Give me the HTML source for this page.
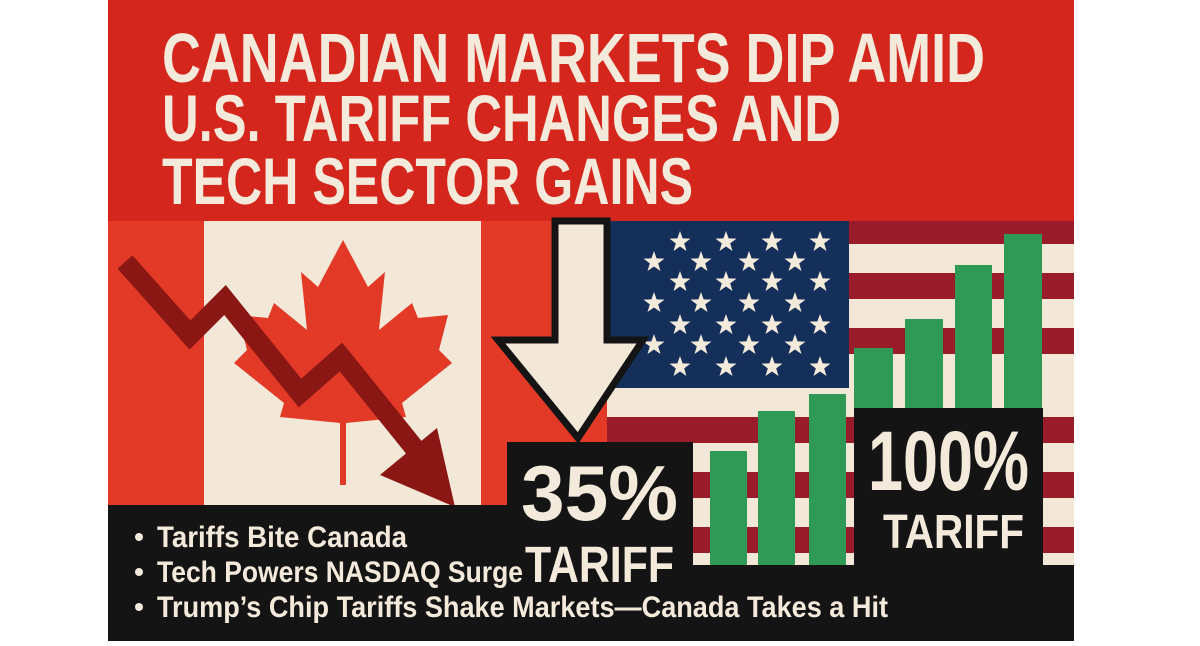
<!DOCTYPE html>
<html><head><meta charset="utf-8"><style>
html,body{margin:0;padding:0;background:#fff;width:1200px;height:646px;overflow:hidden}
svg{display:block}
text{font-family:"Liberation Sans",sans-serif;font-weight:bold;fill:#f4eadb}
</style></head><body>
<svg width="1200" height="646" viewBox="0 0 1200 646" xmlns="http://www.w3.org/2000/svg">
<defs>
<polygon id="st" points="0,-11 2.6,-3.6 10.5,-3.4 4.2,1.4 6.5,9 0,4.5 -6.5,9 -4.2,1.4 -10.5,-3.4 -2.6,-3.6" fill="#f4eadb"/>
</defs>
<rect x="0" y="0" width="1200" height="646" fill="#fff"/>
<rect x="108" y="0" width="966" height="221" fill="#d4261c"/>
<text x="162" y="82" font-size="70" textLength="823" lengthAdjust="spacingAndGlyphs">CANADIAN MARKETS DIP AMID</text>
<text x="162" y="141" font-size="66" textLength="679" lengthAdjust="spacingAndGlyphs">U.S. TARIFF CHANGES AND</text>
<text x="162" y="204" font-size="66" textLength="531" lengthAdjust="spacingAndGlyphs">TECH SECTOR GAINS</text>
<rect x="108" y="221" width="96" height="290" fill="#e23a26"/>
<rect x="204" y="221" width="277" height="290" fill="#f3e8d8"/>
<rect x="481" y="221" width="130" height="290" fill="#e23a26"/>
<polygon fill="#e23a26" points="343,240 368,287 385,272 379,330 412,303 418,318 448,315 439,350 452,363 402,403 406,417 346,423 340,423 280,417 284,403 234,363 247,350 238,315 268,318 274,303 307,330 301,272 318,287"/>
<rect x="340" y="420" width="6" height="65" fill="#e23a26"/>
<rect x="607" y="221" width="467" height="345" fill="#f3e8d8"/>
<g fill="#9a1c2b">
<rect x="607" y="221" width="467" height="23"/>
<rect x="607" y="273" width="467" height="26"/>
<rect x="607" y="328" width="467" height="26"/>
<rect x="607" y="417" width="467" height="26"/>
<rect x="607" y="472" width="467" height="26"/>
<rect x="607" y="527" width="467" height="26"/>
</g>
<rect x="607" y="221" width="242" height="167" fill="#14305a"/>
<g>
<use href="#st" x="680" y="242"/><use href="#st" x="726" y="242"/><use href="#st" x="772" y="242"/><use href="#st" x="820" y="242"/>
<use href="#st" x="654" y="262"/><use href="#st" x="701" y="262"/><use href="#st" x="749" y="262"/><use href="#st" x="795" y="262"/>
<use href="#st" x="680" y="282"/><use href="#st" x="726" y="282"/><use href="#st" x="772" y="282"/><use href="#st" x="820" y="282"/>
<use href="#st" x="654" y="303"/><use href="#st" x="701" y="303"/><use href="#st" x="749" y="303"/><use href="#st" x="795" y="303"/>
<use href="#st" x="680" y="325"/><use href="#st" x="726" y="325"/><use href="#st" x="772" y="325"/><use href="#st" x="820" y="325"/>
<use href="#st" x="654" y="345"/><use href="#st" x="701" y="345"/><use href="#st" x="749" y="345"/><use href="#st" x="795" y="345"/>
<use href="#st" x="680" y="367"/><use href="#st" x="726" y="367"/><use href="#st" x="772" y="367"/><use href="#st" x="820" y="367"/>
</g>
<polygon points="555,221 607,221 607,340 643,340 578,438 498,340 555,340" fill="#f3e8d8" stroke="#141414" stroke-width="7" stroke-linejoin="miter"/>
<polyline points="125,262 190,335 225,300 300,393 341,357 420,455" fill="none" stroke="#8a1714" stroke-width="20" stroke-linejoin="miter"/>
<polygon points="380,475 437,428 455,507" fill="#8a1714"/>
<g fill="#2f9a55">
<rect x="710" y="451" width="37" height="114"/>
<rect x="758" y="411" width="37" height="154"/>
<rect x="809" y="394" width="37" height="171"/>
<rect x="854" y="348" width="39" height="70"/>
<rect x="905" y="319" width="38" height="99"/>
<rect x="955" y="265" width="37" height="153"/>
<rect x="1004" y="234" width="38" height="184"/>
</g>
<rect x="108" y="505" width="400" height="136" fill="#141414"/>
<rect x="507" y="442" width="186" height="199" fill="#141414"/>
<rect x="693" y="565" width="381" height="76" fill="#141414"/>
<rect x="854" y="408" width="189" height="160" fill="#141414"/>
<text x="521" y="520" font-size="78" textLength="157" lengthAdjust="spacingAndGlyphs">35%</text>
<text x="525" y="582" font-size="51" textLength="149" lengthAdjust="spacingAndGlyphs">TARIFF</text>
<text x="868" y="490" font-size="84" textLength="161" lengthAdjust="spacingAndGlyphs">100%</text>
<text x="883" y="548" font-size="48" textLength="141" lengthAdjust="spacingAndGlyphs">TARIFF</text>
<circle cx="139" cy="537" r="4" fill="#f4eadb"/>
<text x="157" y="547" font-size="30" textLength="250" lengthAdjust="spacingAndGlyphs">Tariffs Bite Canada</text>
<circle cx="139" cy="572" r="4" fill="#f4eadb"/>
<text x="157" y="582" font-size="30" textLength="366" lengthAdjust="spacingAndGlyphs">Tech Powers NASDAQ Surge</text>
<circle cx="139" cy="607" r="4" fill="#f4eadb"/>
<text x="157" y="617" font-size="30" textLength="731" lengthAdjust="spacingAndGlyphs">Trump’s Chip Tariffs Shake Markets—Canada Takes a Hit</text>
</svg>
</body></html>
